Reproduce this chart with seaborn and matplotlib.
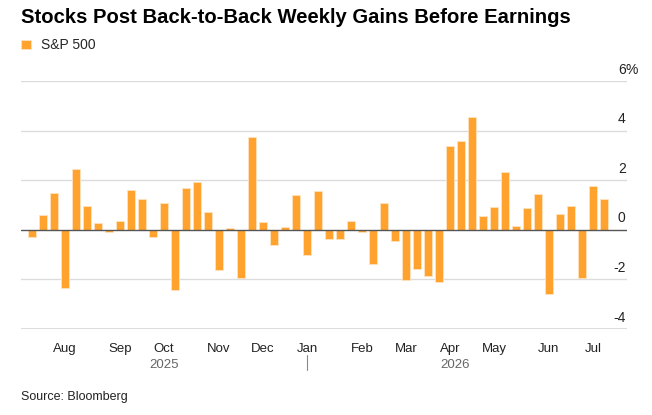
import pandas as pd
import numpy as np
import seaborn as sns
import matplotlib.pyplot as plt
import matplotlib.transforms as mtransforms

# weekly S&P 500 change, %
weeks = pd.date_range('2025-07-11', periods=53, freq='W-FRI')
changes = [-0.31, 0.59, 1.46, -2.36, 2.43, 0.95, 0.27, -0.11, 0.34, 1.58,
           1.22, -0.31, 1.07, -2.43, 1.70, 1.92, 0.71, -1.64, 0.08, -1.95,
           3.73, 0.31, -0.63, 0.11, 1.40, -1.03, 1.56, -0.38, -0.36, 0.35,
           -0.09, -1.38, 1.07, -0.44, -2.03, -1.60, -1.89, -2.11, 3.36, 3.56,
           4.54, 0.55, 0.91, 2.32, 0.13, 0.87, 1.42, -2.58, 0.64, 0.94,
           -1.95, 1.76, 1.22]
y_ticks = [-4, -2, 0, 2, 4, 6]

title = 'Stocks Post Back-to-Back Weekly Gains Before Earnings'
series_name = 'S&P 500'
source = 'Source: Bloomberg'

orange = '#FFA22E'

sns.set_style('white')
plt.rcParams['font.family'] = ['Liberation Sans', 'DejaVu Sans']

df = pd.DataFrame({'week': weeks, 'change': changes})
df['pos'] = np.arange(len(df))

fig = plt.figure(figsize=(6.52, 4.15), dpi=100)
ax = fig.add_axes([0.0322, 0.208, 0.9295, 0.5968])

# grid
for t in y_ticks:
    if t == 0:
        continue
    ax.axhline(t, color='#dcdcdc', lw=1.4 if t == y_ticks[0] else 1.0, zorder=0)

sns.barplot(data=df, x='pos', y='change', color=orange, width=0.73,
            edgecolor='#fde3bf', linewidth=0.6, saturation=1,
            label=series_name, ax=ax, zorder=2)
ax.axhline(0, color='#555555', lw=1.0, zorder=3)

ax.set_xlim(-1, 54.1)
ax.set_ylim(y_ticks[0], y_ticks[-1])
ax.set_xlabel('')
ax.set_ylabel('')
sns.despine(ax=ax, left=True, bottom=True)

# y labels inside the right edge, sitting on the grid lines
ax.set_yticks([])
for t in y_ticks:
    ax.annotate(str(t), xy=(1, t), xycoords=('axes fraction', 'data'),
                xytext=(-1, 3), textcoords='offset points',
                ha='right', va='bottom', fontsize=10, color='#222222')
ax.annotate('%', xy=(1, y_ticks[-1]), xycoords=('axes fraction', 'data'),
            xytext=(-1, 3), textcoords='offset points',
            ha='left', va='bottom', fontsize=10, color='#222222')

# month ticks at first week of each month
month_key = df['week'].dt.to_period('M')
first = df.groupby(month_key)['pos'].min()
first = first[first > 0]
labels = [p.strftime('%b') for p in first.index]
ax.set_xticks(first.values, labels)
ax.tick_params(axis='x', length=4.5, width=0.8, color='#666666', pad=6,
               labelsize=9.5, labelcolor='#222222')

# year labels below months
years = df.groupby(df['week'].dt.year)['pos']
for yr, grp in years:
    ax.annotate(str(yr), xy=(grp.mean(), 0), xycoords=('data', 'axes fraction'),
                xytext=(0, -26), textcoords='offset points',
                ha='center', va='center', fontsize=9.5, color='#666666')
jan_pos = df.loc[df['week'].dt.year == 2026, 'pos'].min()
trans = mtransforms.blended_transform_factory(ax.transData, ax.transAxes)
ax.plot([jan_pos, jan_pos], [-0.105, -0.165], color='#888888', lw=0.8,
        transform=trans, clip_on=False)

leg = ax.legend(loc='upper left', bbox_to_anchor=(0.024, 0.921),
                bbox_transform=fig.transFigure, frameon=False,
                handlelength=0.7, handleheight=0.7, handletextpad=0.7,
                fontsize=10, borderaxespad=0)

fig.text(0.0322, 0.957, title, fontsize=14.6, fontweight='bold',
         ha='left', va='center', color='#000000')
fig.text(0.0322, 0.043, source, fontsize=9, ha='left', va='center',
         color='#222222')

fig.savefig('out.png', dpi=100)
